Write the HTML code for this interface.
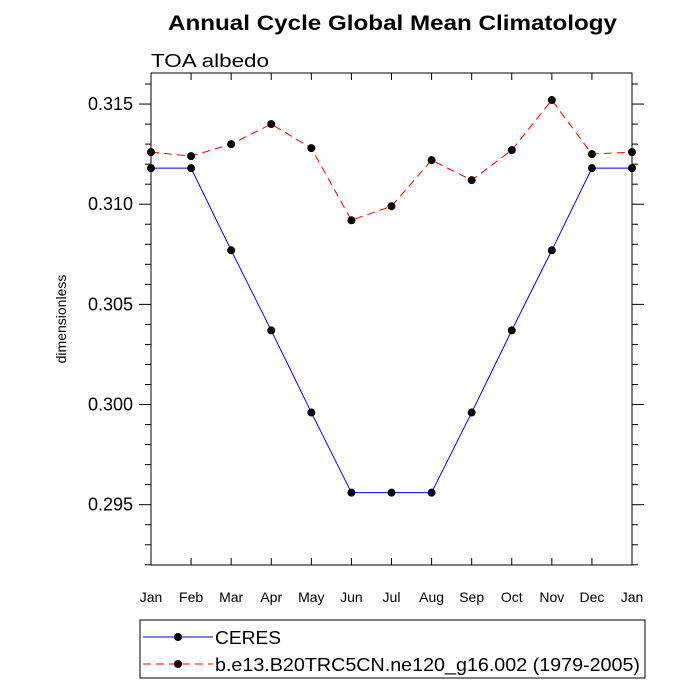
<!DOCTYPE html>
<html><head><meta charset="utf-8"><style>body{margin:0;background:#fff}svg{display:block;font-family:"Liberation Sans",sans-serif}</style></head>
<body>
<svg id="chart" width="700" height="700">
<text x="168" y="30" font-size="21" font-weight="bold" textLength="449" lengthAdjust="spacingAndGlyphs">Annual Cycle Global Mean Climatology</text>
<text x="151" y="67" font-size="18" textLength="118" lengthAdjust="spacingAndGlyphs">TOA albedo</text>
<text transform="translate(66,319) rotate(-90)" text-anchor="middle" font-size="14">dimensionless</text>
<g id="axes"></g><g id="series"></g>
<rect x="140" y="620" width="505" height="58" fill="none" stroke="#000"/>
<g><line x1="143" y1="637" x2="213" y2="637" stroke="#00f"/><circle cx="178" cy="637" r="4" fill="#000"/><text x="215" y="644" font-size="18" textLength="66" lengthAdjust="spacingAndGlyphs">CERES</text></g>
<g><line x1="143" y1="664" x2="213" y2="664" stroke="#f00" stroke-dasharray="8,5"/><circle cx="178" cy="664" r="4" fill="#000"/><text x="215" y="671" font-size="18" textLength="425" lengthAdjust="spacingAndGlyphs">b.e13.B20TRC5CN.ne120_g16.002 (1979-2005)</text></g>
</svg>
<script>
const months=["Jan","Feb","Mar","Apr","May","Jun","Jul","Aug","Sep","Oct","Nov","Dec","Jan"];
const ceres=[0.3118,0.3118,0.3077,0.3037,0.2996,0.2956,0.2956,0.2956,0.2996,0.3037,0.3077,0.3118,0.3118];
const model=[0.3126,0.3124,0.3130,0.3140,0.3128,0.3092,0.3099,0.3122,0.3112,0.3127,0.3152,0.3125,0.3126];
const yTicks=[0.295,0.300,0.305,0.310,0.315];
const yTickLabels=["0.295","0.300","0.305","0.310","0.315"];
const L=151,R=632,T=73,B=565,yMin=0.29199,yMax=0.31655;
const X=i=>L+(R-L)*i/(months.length-1);
const Y=v=>B-(v-yMin)/(yMax-yMin)*(B-T);
const NS="http://www.w3.org/2000/svg";
function mk(p,t,a){const e=document.createElementNS(NS,t);for(const k in a)e.setAttribute(k,a[k]);p.appendChild(e);return e;}
const ax=document.getElementById('axes'),se=document.getElementById('series');
const frame=mk(ax,'rect',{x:L,y:T,width:R-L,height:B-T,fill:'none',stroke:'#000'});


months.forEach((m,i)=>{const x=X(i);
mk(ax,'line',{x1:x,y1:B,x2:x,y2:B-7,stroke:'#000'});mk(ax,'line',{x1:x,y1:T,x2:x,y2:T+7,stroke:'#000'});
const t=mk(ax,'text',{x:x,y:B+37,'text-anchor':'middle','font-size':14});t.textContent=m;

});
for(let v=0.292;v<=0.3165;v+=0.001){const y=Y(v);const maj=Math.abs(Math.round(v*1000)%5)===0;const l=maj?12:6;
mk(ax,'line',{x1:L,y1:y,x2:L-l,y2:y,stroke:'#000'});mk(ax,'line',{x1:R,y1:y,x2:R+l,y2:y,stroke:'#000'});}
yTicks.forEach((v,i)=>{const t=mk(ax,'text',{x:L-18,y:Y(v)+6,'text-anchor':'end','font-size':18});t.textContent=yTickLabels[i];

});
function draw(arr,col,dash,name){const p=mk(se,'polyline',{points:arr.map((v,i)=>X(i)+','+Y(v)).join(' '),fill:'none',stroke:col,'stroke-dasharray':dash});


arr.forEach((v,i)=>{const c=mk(se,'circle',{cx:X(i),cy:Y(v),r:4,fill:'#000'});

});}
draw(ceres,'#00f','none','ceres');
draw(model,'#f00','8,5','model');
</script>
</body></html>
